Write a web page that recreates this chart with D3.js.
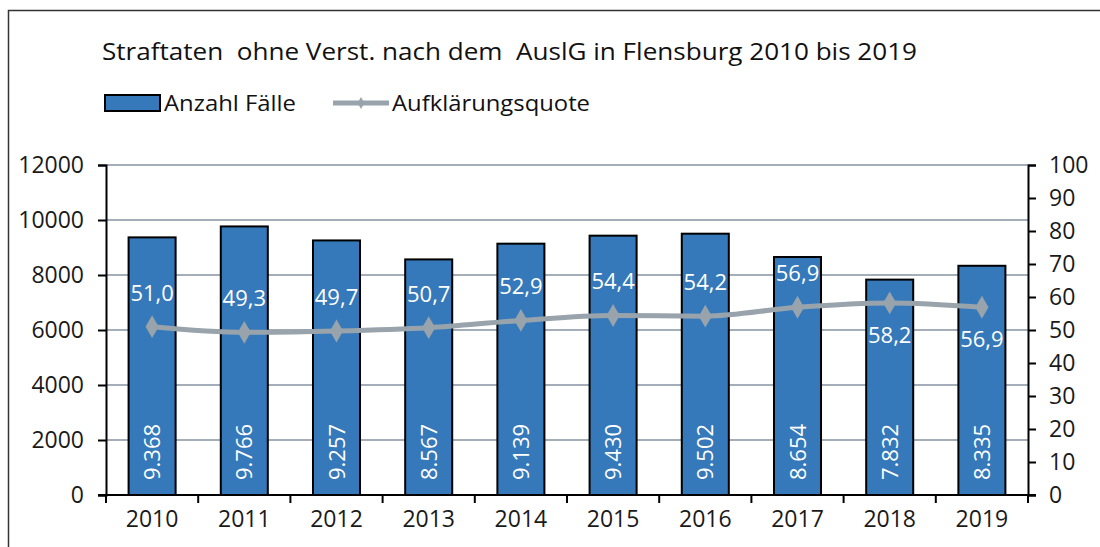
<!DOCTYPE html>
<html><head><meta charset="utf-8">
<script src="https://cdn.jsdelivr.net/npm/d3@7/dist/d3.min.js"></script>
<style>
body{margin:0;background:#fff;}
svg text{font-family:"Open Sans","Noto Sans",sans-serif;font-weight:400;}
</style></head>
<body><svg id="c" width="1100" height="547"></svg>
<script>
const years = ["2010","2011","2012","2013","2014","2015","2016","2017","2018","2019"];
const cases = [9368,9766,9257,8567,9139,9430,9502,8654,7832,8335];
const caseLabels = ["9.368","9.766","9.257","8.567","9.139","9.430","9.502","8.654","7.832","8.335"];
const quote = [51.0,49.3,49.7,50.7,52.9,54.4,54.2,56.9,58.2,56.9];
const quoteLabels = ["51,0","49,3","49,7","50,7","52,9","54,4","54,2","56,9","58,2","56,9"];
const labelBelow = [false,false,false,false,false,false,false,false,true,true];
const leftTicks = [0,2000,4000,6000,8000,10000,12000];
const rightTicks = [0,10,20,30,40,50,60,70,80,90,100];

const svg = d3.select("#c");
const L=106, R=1028, T=165, B=495;
const barColor="#3579ba", lineColor="#98a3ac", gridColor="#a3aeb8";
const FF = "'Open Sans','Noto Sans',sans-serif";

// frame
svg.append("path").attr("d","M8.5,547 L8.5,10.5 L1100,10.5").attr("fill","none").attr("stroke","#333").attr("stroke-width",1.5);

// title & legend
svg.append("text").attr("x",102).attr("y",60).attr("font-size",23).attr("fill","#111")
  .attr("textLength",815).attr("lengthAdjust","spacingAndGlyphs").style("white-space","pre")
  .text("Straftaten  ohne Verst. nach dem  AuslG in Flensburg 2010 bis 2019");
svg.append("rect").attr("x",105).attr("y",95).attr("width",55).attr("height",16).attr("fill",barColor).attr("stroke","#000").attr("stroke-width",2);
svg.append("text").attr("x",164).attr("y",111).attr("font-size",22).attr("fill","#111")
  .attr("textLength",132).attr("lengthAdjust","spacingAndGlyphs").text("Anzahl Fälle");
svg.append("line").attr("x1",333).attr("x2",389).attr("y1",103).attr("y2",103).attr("stroke",lineColor).attr("stroke-width",5);
svg.append("path").attr("d",d3.symbol(d3.symbolDiamond,40)()).attr("transform","translate(361,103)").attr("fill",lineColor);
svg.append("text").attr("x",392).attr("y",111).attr("font-size",22).attr("fill","#111")
  .attr("textLength",198).attr("lengthAdjust","spacingAndGlyphs").text("Aufklärungsquote");

const x = d3.scaleBand().domain(years).range([L,R]).paddingInner(0.49).paddingOuter(0.245);
const xb = d3.scaleBand().domain(years).range([L,R]);
const y = d3.scaleLinear().domain([0,12000]).range([B,T]);
const y2 = d3.scaleLinear().domain([0,100]).range([B,T]);

// grid
svg.append("g").selectAll("line").data(leftTicks.filter(d=>d>0)).join("line")
  .attr("x1",L).attr("x2",R).attr("y1",d=>y(d)).attr("y2",d=>y(d))
  .attr("stroke",gridColor).attr("stroke-width",2);

// bars
svg.append("g").selectAll("rect").data(cases).join("rect")
  .attr("x",(d,i)=>x(years[i])).attr("width",x.bandwidth())
  .attr("y",d=>y(d)).attr("height",d=>B-y(d))
  .attr("fill",barColor).attr("stroke","#000").attr("stroke-width",2);

// axes
const gl = svg.append("g").attr("transform",`translate(${L},0)`)
  .call(d3.axisLeft(y).tickValues(leftTicks).tickSize(8).tickPadding(14).tickFormat(d=>String(d)));
const gr = svg.append("g").attr("transform",`translate(${R},0)`)
  .call(d3.axisRight(y2).tickValues(rightTicks).tickSize(8).tickPadding(13).tickFormat(d=>String(d)));
const gx = svg.append("g").attr("transform",`translate(0,${B})`)
  .call(d3.axisBottom(xb).tickSize(0).tickPadding(16));
svg.append("g").selectAll("line").data(d3.range(years.length+1)).join("line")
  .attr("x1",i=>L+i*xb.step()).attr("x2",i=>L+i*xb.step()).attr("y1",B).attr("y2",B+8)
  .attr("stroke","#000").attr("stroke-width",2);
svg.append("line").attr("x1",L-8).attr("x2",R+8).attr("y1",B).attr("y2",B).attr("stroke","#000").attr("stroke-width",2);
[gl,gr,gx].forEach(g=>{
  g.select(".domain").attr("stroke","#000").attr("stroke-width",2);
  g.selectAll(".tick line").attr("stroke","#000").attr("stroke-width",2);
  g.selectAll("text").attr("font-size",23).attr("fill","#1a1a1a").attr("font-family",FF).attr("font-weight",400);
});
gx.select(".domain").remove();

// bar labels
svg.append("g").selectAll("text").data(caseLabels).join("text")
  .attr("transform",(d,i)=>`translate(${x(years[i])+x.bandwidth()/2+8},452) rotate(-90)`)
  .attr("text-anchor","middle").attr("font-size",22).attr("fill","#fff").text(d=>d);

// line
const cx = i=>xb(years[i])+xb.bandwidth()/2;
svg.append("path").datum(quote)
  .attr("d",d3.line().x((d,i)=>cx(i)).y(d=>y2(d)).curve(d3.curveMonotoneX))
  .attr("fill","none").attr("stroke",lineColor).attr("stroke-width",5);
svg.append("g").selectAll("path").data(quote).join("path")
  .attr("d",d3.symbol(d3.symbolDiamond,150)())
  .attr("transform",(d,i)=>`translate(${cx(i)},${y2(d)})`).attr("fill",lineColor);
svg.append("g").selectAll("text").data(quoteLabels).join("text")
  .attr("x",(d,i)=>cx(i)).attr("y",(d,i)=>y2(quote[i])+(labelBelow[i]?40:-26))
  .attr("text-anchor","middle").attr("font-size",22).attr("fill","#fff").text(d=>d);
</script></body></html>
